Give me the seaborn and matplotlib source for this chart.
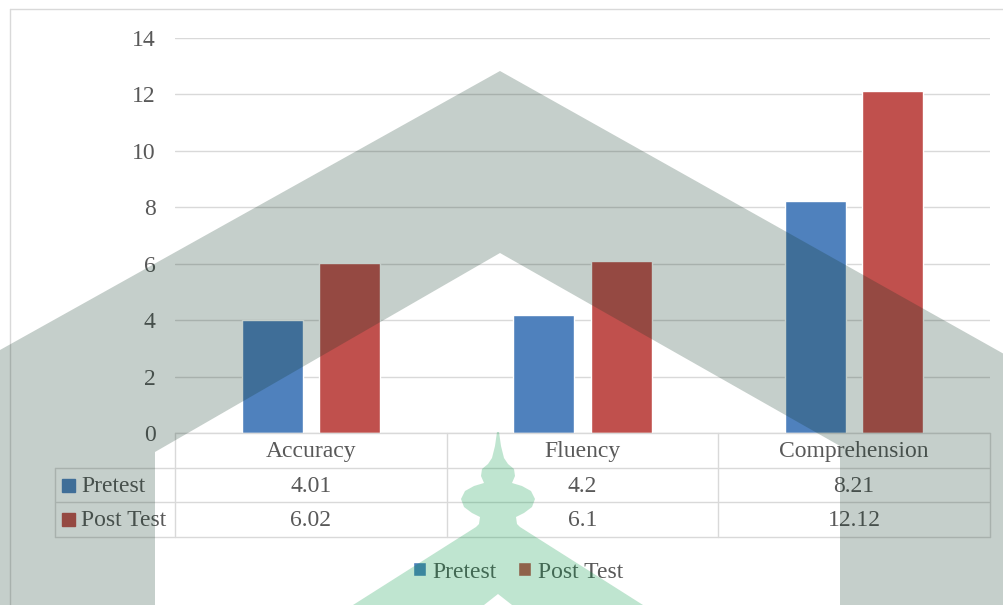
import pandas as pd
import seaborn as sns
import matplotlib.pyplot as plt
import matplotlib.transforms as mtransforms
from matplotlib.patches import Polygon, Rectangle
from matplotlib.lines import Line2D

# chart data
categories = ['Accuracy', 'Fluency', 'Comprehension']
series = ['Pretest', 'Post Test']
pretest = [4.01, 4.2, 8.21]
post_test = [6.02, 6.1, 12.12]
colors = ['#4F81BD', '#C0504D']
yticks = [0, 2, 4, 6, 8, 10, 12, 14]

W, H = 1004, 605
TXT = '#595959'
LINE = '#D9D9D9'


def px(x, y):
    """pixel position (from top left) -> figure fraction"""
    return (x / W, 1 - y / H)


def hline(y, x0, x1):
    fig.add_artist(Line2D([x0 / W, x1 / W], [1 - y / H] * 2, color=LINE, lw=1.0))


def vline(x, y0, y1):
    fig.add_artist(Line2D([x / W] * 2, [1 - y0 / H, 1 - y1 / H], color=LINE, lw=1.0))


sns.set_style('white')
plt.rcParams['font.family'] = ['Liberation Serif', 'DejaVu Serif']

fig = plt.figure(figsize=(W / 100, H / 100), dpi=100)
ax = fig.add_axes([175 / W, 1 - 433 / H, 815 / W, 395 / H])

df = pd.DataFrame({
    'category': categories * 2,
    'series': [series[0]] * len(categories) + [series[1]] * len(categories),
    'value': pretest + post_test,
})
sns.barplot(data=df, x='category', y='value', hue='series', palette=colors,
            width=0.568, gap=0.21, saturation=1, ax=ax, legend=False)

ax.set_xlim(-0.5, 2.5)
ax.set_ylim(0, 14)
ax.set_yticks(yticks)
ax.set_xticks([])
ax.set_xlabel('')
ax.set_ylabel('')
ax.grid(axis='y', color=LINE, lw=1.0)
ax.set_axisbelow(True)
sns.despine(ax=ax, left=True, bottom=True)
ax.tick_params(axis='y', length=0, pad=14, labelsize=17, labelcolor=TXT)

# the "0" label is half hidden in the original
fig.add_artist(Rectangle(px(125, 455), 49 / W, 12 / H, facecolor='white',
                         edgecolor='none', transform=fig.transFigure, zorder=1))

# data table under the plot
col_x = [175, 446.7, 718.3, 990]
row_y = [433, 467.7, 502.3, 537]
hline(row_y[0], col_x[0], col_x[-1])
for y in row_y[1:]:
    hline(y, 55, col_x[-1])
for x in col_x:
    vline(x, row_y[0], row_y[-1])
vline(55, row_y[1], row_y[-1])

blend = mtransforms.blended_transform_factory(ax.transData, fig.transFigure)
for i, c in enumerate(categories):
    ax.text(i, 1 - 451 / H, c, transform=blend, ha='center', va='center',
            fontsize=17, color=TXT)

for r, (name, vals, col) in enumerate(zip(series, [pretest, post_test], colors)):
    yc = (row_y[r + 1] + row_y[r + 2]) / 2
    fig.add_artist(Rectangle(px(62, yc + 6.5), 13 / W, 13 / H, color=col,
                             transform=fig.transFigure))
    fig.text(81 / W, 1 - (yc + 1) / H, name, ha='left', va='center',
             fontsize=17, color=TXT)
    for i, v in enumerate(vals):
        ax.text(i, 1 - (yc + 1) / H, f'{v:g}', transform=blend, ha='center',
                va='center', fontsize=17, color=TXT)

# legend
handles = [ax.containers[0][0], ax.containers[1][0]]
fig.legend(handles, series, loc='center', bbox_to_anchor=px(518, 572), ncol=2,
           frameon=False, fontsize=17, handlelength=0.55, handleheight=0.55,
           handletextpad=0.3, columnspacing=0.9, labelcolor=TXT)

# chart border (top and left edges visible)
hline(9, 10, W)
vline(10, 9, H)

# watermark: grey house and green mosque
house = [(0, 350), (500, 71), (1004, 354), (1004, 605), (840, 605), (840, 446),
         (500, 253), (155, 452), (155, 605), (0, 605)]
fig.add_artist(Polygon([px(*p) for p in house], closed=True, transform=fig.transFigure,
                       facecolor='#0C3322', edgecolor='none', alpha=0.235, zorder=20))

half = [(499, 432), (501, 446), (504, 458), (508, 464), (514, 469), (515, 476),
        (512, 483), (522, 486), (531, 491), (535, 499), (532, 507), (524, 513),
        (516, 517), (517, 524), (520, 527), (643, 605), (512, 605), (498, 594)]
mosque = half + [(996 - x, y) for x, y in reversed(half[:-1])]
fig.add_artist(Polygon([px(*p) for p in mosque], closed=True, transform=fig.transFigure,
                       facecolor='#009844', edgecolor='none', alpha=0.25, zorder=20))

fig.savefig('out.png', dpi=100)
